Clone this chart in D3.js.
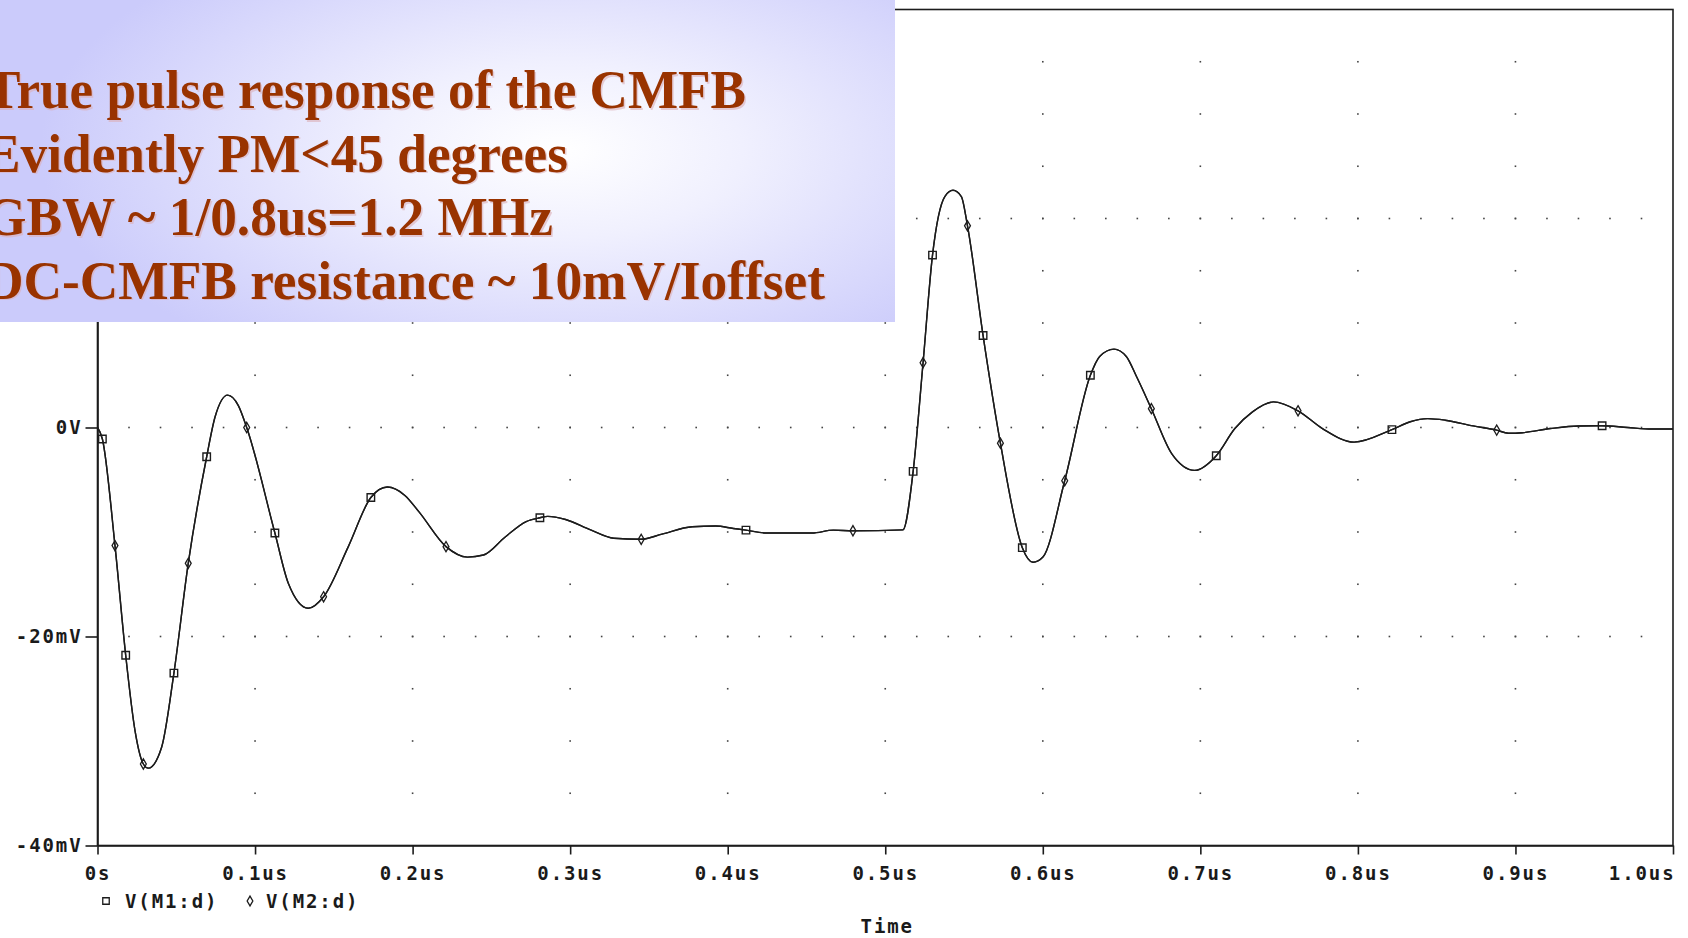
<!DOCTYPE html>
<html>
<head>
<meta charset="utf-8">
<script src="https://cdn.jsdelivr.net/npm/d3@7"></script>
<style>
  html, body { margin: 0; padding: 0; background: #ffffff; }
  svg { display: block; }
  .lbl { font-family: "DejaVu Sans Mono", monospace; font-weight: bold; font-size: 19px; letter-spacing: 1.9px; fill: #1a1a1a; }
  .note { font-family: "Liberation Serif", "Times New Roman", serif; font-weight: bold; font-size: 55px; }
</style>
</head>
<body>
<svg id="chart" width="1688" height="938"></svg>
<script>
// Transient simulation: common-mode feedback pulse response (time in us, voltage in mV)
const timeUs = [
  0, 0.0031, 0.0111, 0.0179, 0.0238, 0.0291, 0.0323, 0.0407, 0.0485, 0.0576,
  0.0693, 0.0746, 0.0826, 0.0894, 0.0947, 0.1126, 0.1211, 0.1338, 0.1435, 0.1592,
  0.1735, 0.1840, 0.1951, 0.2042, 0.2212, 0.2348, 0.2450, 0.2586, 0.2721, 0.2808,
  0.2858, 0.2971, 0.3130, 0.3277, 0.3451, 0.3583, 0.3775, 0.3923, 0.4036, 0.4116,
  0.4251, 0.4534, 0.4671, 0.4795, 0.5112, 0.5177, 0.5240, 0.5300, 0.5378, 0.5430,
  0.5483, 0.5522, 0.5621, 0.5731, 0.5870, 0.5938, 0.6001, 0.6139, 0.6302, 0.6361,
  0.6452, 0.6530, 0.6594, 0.6689, 0.6818, 0.6964, 0.7101, 0.7219, 0.7331, 0.7464,
  0.7620, 0.7775, 0.7976, 0.8216, 0.8332, 0.8443, 0.8554, 0.8732, 0.8881, 0.8955,
  0.9044, 0.9222, 0.9400, 0.9550, 0.9712, 0.9867, 1.0000
];

// V(M1:d) drain voltage, mV
const vM1 = [
  0, -1.1, -11.3, -21.8, -29.0, -32.2, -32.6, -30.6, -23.5, -13.0,
  -2.8, 1.0, 3.1, 2.1, 0.0, -10.1, -14.9, -17.3, -16.2, -11.4,
  -6.7, -5.7, -6.5, -8.1, -11.4, -12.4, -12.2, -10.5, -9.0, -8.64,
  -8.5, -8.8, -9.8, -10.6, -10.7, -10.2, -9.5, -9.43, -9.66, -9.82,
  -10.1, -10.1, -9.82, -9.88, -9.8, -4.2, 6.2, 16.5, 22.1, 22.7,
  22.1, 19.3, 8.8, -1.5, -11.5, -12.9, -12.4, -5.1, 5.0, 6.8,
  7.5, 6.8, 4.9, 1.8, -2.5, -4.1, -2.7, -0.1, 1.5, 2.45,
  1.6, -0.1, -1.4, -0.2, 0.55, 0.85, 0.7, 0.15, -0.25, -0.55,
  -0.5, -0.1, 0.15, 0.17, 0.0, -0.15, -0.15
];

// V(M2:d) drain voltage, mV (overlays M1)
const vM2 = [
  0, -1.1, -11.3, -21.8, -29.0, -32.2, -32.6, -30.6, -23.5, -13.0,
  -2.8, 1.0, 3.1, 2.1, 0.0, -10.1, -14.9, -17.3, -16.2, -11.4,
  -6.7, -5.7, -6.5, -8.1, -11.4, -12.4, -12.2, -10.5, -9.0, -8.64,
  -8.5, -8.8, -9.8, -10.6, -10.7, -10.2, -9.5, -9.43, -9.66, -9.82,
  -10.1, -10.1, -9.82, -9.88, -9.8, -4.2, 6.2, 16.5, 22.1, 22.7,
  22.1, 19.3, 8.8, -1.5, -11.5, -12.9, -12.4, -5.1, 5.0, 6.8,
  7.5, 6.8, 4.9, 1.8, -2.5, -4.1, -2.7, -0.1, 1.5, 2.45,
  1.6, -0.1, -1.4, -0.2, 0.55, 0.85, 0.7, 0.15, -0.25, -0.55,
  -0.5, -0.1, 0.15, 0.17, 0.0, -0.15, -0.15
];

// Sample times carrying the trace symbols
const m1MarkerTimes = [0.0031, 0.0179, 0.0485, 0.0693, 0.1126, 0.1735, 0.2808, 0.4116,
  0.5177, 0.5300, 0.5621, 0.5870, 0.6302, 0.7101, 0.8216, 0.9550];
const m2MarkerTimes = [0.0111, 0.0291, 0.0576, 0.0947, 0.1435, 0.2212, 0.3451, 0.4795,
  0.5240, 0.5522, 0.5731, 0.6139, 0.6689, 0.7620, 0.8881];

const xTickValues = [0, 0.1, 0.2, 0.3, 0.4, 0.5, 0.6, 0.7, 0.8, 0.9, 1.0];
const xTickLabels = ["0s", "0.1us", "0.2us", "0.3us", "0.4us", "0.5us", "0.6us", "0.7us", "0.8us", "0.9us", "1.0us"];
const yTickValues = [-40, -20, 0, 20, 40];
const yTickLabels = ["-40mV", "-20mV", "0V", "20mV", "40mV"];

const seriesNames = ["V(M1:d)", "V(M2:d)"];
const axisTitle = "Time";

const noteLines = [
  "True pulse response of the CMFB",
  "Evidently PM<45 degrees",
  "GBW ~ 1/0.8us=1.2 MHz",
  "DC-CMFB resistance ~ 10mV/Ioffset"
];

// ---- layout ----
const svg = d3.select("#chart");
const plot = { left: 97.5, top: 9.5, right: 1673, bottom: 845.5 };

const x = d3.scaleLinear().domain([0, 1.0]).range([plot.left, plot.right]);
const y = d3.scaleLinear().domain([-40, 40]).range([plot.bottom, plot.top]);

const ink = "#1c1c1c";

// dotted grid: major rows / columns, dots at minor spacing
const grid = svg.append("g");
const rowDotsX = d3.range(1, 50).map(i => i * 0.02);
[-20, 0, 20].forEach(v => {
  grid.selectAll(null).data(rowDotsX).join("rect")
    .attr("x", d => x(d) - 0.8).attr("y", y(v) - 0.8)
    .attr("width", 1.6).attr("height", 1.6).attr("fill", "#444");
});
const colDotsY = d3.range(-7, 8).map(i => i * 5);
xTickValues.slice(1, -1).forEach(t => {
  grid.selectAll(null).data(colDotsY).join("rect")
    .attr("x", x(t) - 0.8).attr("y", d => y(d) - 0.8)
    .attr("width", 1.6).attr("height", 1.6).attr("fill", "#444");
});

// frame
svg.append("rect")
  .attr("x", plot.left).attr("y", plot.top)
  .attr("width", plot.right - plot.left).attr("height", plot.bottom - plot.top)
  .attr("fill", "none").attr("stroke", ink).attr("stroke-width", 1.6);

// axes
const xAxis = d3.axisBottom(x)
  .tickValues(xTickValues)
  .tickFormat((d, i) => xTickLabels[i])
  .tickSize(9).tickSizeOuter(0).tickPadding(12);
const gx = svg.append("g").attr("transform", `translate(0,${plot.bottom})`).call(xAxis);

const yAxis = d3.axisLeft(y)
  .tickValues(yTickValues)
  .tickFormat((d, i) => yTickLabels[i])
  .tickSize(12).tickSizeOuter(0).tickPadding(3);
const gy = svg.append("g").attr("transform", `translate(${plot.left},0)`).call(yAxis);

[gx, gy].forEach(g => {
  g.select(".domain").attr("stroke", ink).attr("stroke-width", 1.6);
  g.selectAll(".tick line").attr("stroke", ink).attr("stroke-width", 1.6);
  g.selectAll(".tick text").attr("class", "lbl").attr("fill", ink);
});
// last time label sits flush with the right edge of the frame
gx.selectAll(".tick text").filter(d => d === 1.0).attr("text-anchor", "end").attr("dx", "2px");

// traces
const line = d3.line()
  .x(d => x(d[0]))
  .y(d => y(d[1]))
  .curve(d3.curveMonotoneX);

const traceM1 = timeUs.map((t, i) => [t, vM1[i]]);
const traceM2 = timeUs.map((t, i) => [t, vM2[i]]);

[traceM2, traceM1].forEach(tr => {
  svg.append("path").datum(tr)
    .attr("d", line)
    .attr("fill", "none")
    .attr("stroke", ink)
    .attr("stroke-width", 1.4)
    .attr("stroke-linejoin", "round");
});

// trace symbols
const sq = d3.symbol().type(d3.symbolSquare).size(56);
const dm = d3.symbol().type(d3.symbolDiamond).size(30);

svg.append("g").selectAll("path")
  .data(m1MarkerTimes.map(t => traceM1[timeUs.indexOf(t)]))
  .join("path")
  .attr("d", sq)
  .attr("transform", d => `translate(${x(d[0])},${y(d[1])})`)
  .attr("fill", "none").attr("stroke", ink).attr("stroke-width", 1.4);

svg.append("g").selectAll("path")
  .data(m2MarkerTimes.map(t => traceM2[timeUs.indexOf(t)]))
  .join("path")
  .attr("d", dm)
  .attr("transform", d => `translate(${x(d[0])},${y(d[1])})`)
  .attr("fill", "none").attr("stroke", ink).attr("stroke-width", 1.3);

// legend
const lg = svg.append("g").attr("transform", "translate(0,901)");
lg.append("path").attr("d", d3.symbol().type(d3.symbolSquare).size(42))
  .attr("transform", "translate(106,0)")
  .attr("fill", "none").attr("stroke", ink).attr("stroke-width", 1.3);
lg.append("text").attr("class", "lbl").attr("x", 125).attr("dy", "0.36em").text(seriesNames[0]);
lg.append("path").attr("d", d3.symbol().type(d3.symbolDiamond).size(28))
  .attr("transform", "translate(250,0)")
  .attr("fill", "none").attr("stroke", ink).attr("stroke-width", 1.3);
lg.append("text").attr("class", "lbl").attr("x", 266).attr("dy", "0.36em").text(seriesNames[1]);

svg.append("text").attr("class", "lbl")
  .attr("x", (plot.left + plot.right) / 2 + 2).attr("y", 926).attr("dy", "0.36em")
  .attr("text-anchor", "middle").text(axisTitle);

// annotation panel
const defs = svg.append("defs");
const rg = defs.append("radialGradient").attr("id", "panelGlow")
  .attr("gradientUnits", "userSpaceOnUse")
  .attr("cx", 560).attr("cy", 150).attr("r", 520)
  .attr("gradientTransform", "translate(560,150) scale(1,0.48) translate(-560,-150)");
rg.append("stop").attr("offset", "0%").attr("stop-color", "#ffffff");
rg.append("stop").attr("offset", "35%").attr("stop-color", "#f0f0fe");
rg.append("stop").attr("offset", "100%").attr("stop-color", "#cbcbfb");

svg.append("rect").attr("x", 0).attr("y", 0).attr("width", 895).attr("height", 322)
  .attr("fill", "url(#panelGlow)");

const noteX = -15;
const noteBaselines = [108, 171.5, 235, 298.5];
const noteWidths = [761, 583, 568, 840];
const notes = svg.append("g");
noteLines.forEach((s, i) => {
  notes.append("text").attr("class", "note")
    .attr("x", noteX + 1.5).attr("y", noteBaselines[i] + 1.5)
    .attr("textLength", noteWidths[i]).attr("lengthAdjust", "spacingAndGlyphs")
    .attr("fill", "#dcb0b8").attr("opacity", 0.6).text(s);
  notes.append("text").attr("class", "note")
    .attr("x", noteX).attr("y", noteBaselines[i])
    .attr("textLength", noteWidths[i]).attr("lengthAdjust", "spacingAndGlyphs")
    .attr("fill", "#993300").text(s);
});
</script>
</body>
</html>
